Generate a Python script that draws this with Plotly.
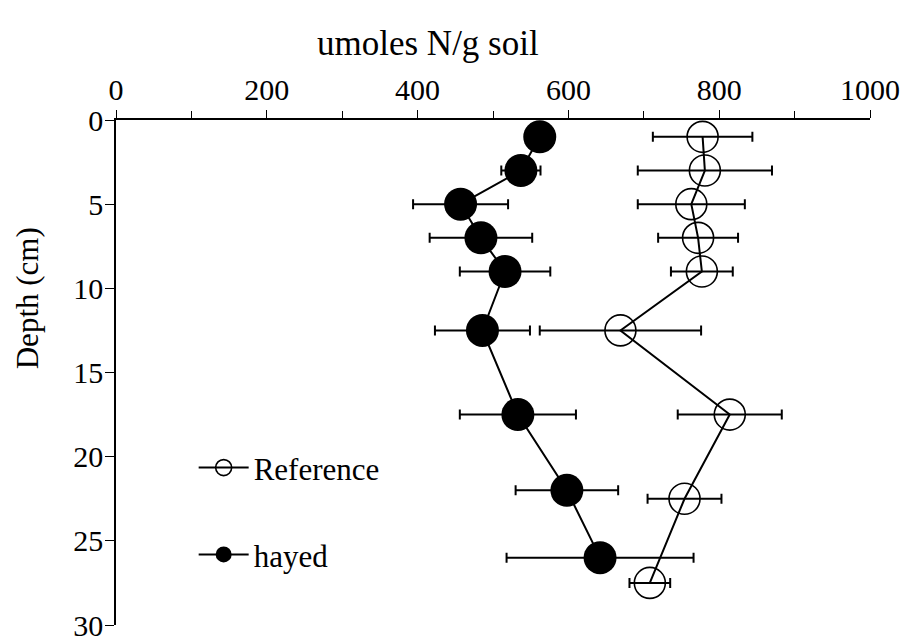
import plotly.graph_objects as go

depth_hayed = [1, 3, 5, 7, 9, 12.5, 17.5, 22, 26]
n_hayed = [562, 537, 457, 484, 516, 486, 533, 598, 642]
err_hayed = [0, 26, 63, 68, 60, 63, 77, 68, 124]

depth_ref = [1, 3, 5, 7, 9, 12.5, 17.5, 22.5, 27.5]
n_ref = [778, 781, 763, 772, 777, 669, 814, 754, 708]
err_ref = [66, 89, 71, 53, 41, 107, 69, 49, 27]

x_ticks = [0, 200, 400, 600, 800, 1000]
y_ticks = [0, 5, 10, 15, 20, 25, 30]

FONT = "Liberation Serif"
FS = 30

fig = go.Figure()
fig.add_trace(go.Scatter(
    x=n_ref, y=depth_ref, name="Reference", mode="lines+markers",
    line=dict(color="black", width=2),
    marker=dict(symbol="circle-open", size=31, color="black", line=dict(width=1.6, color="black")),
    error_x=dict(type="data", array=err_ref, visible=True, color="black", thickness=2, width=5),
    legend="legend",
))
fig.add_trace(go.Scatter(
    x=n_hayed, y=depth_hayed, name="hayed", mode="lines+markers",
    line=dict(color="black", width=2),
    marker=dict(symbol="circle", size=33, color="black"),
    error_x=dict(type="data", array=err_hayed, visible=True, color="black", thickness=2, width=5),
    legend="legend2",
))

fig.update_layout(
    width=904, height=643,
    margin=dict(l=116, r=34, t=120, b=18, autoexpand=False),
    paper_bgcolor="white", plot_bgcolor="white",
    font=dict(family=FONT, size=FS, color="black"),
    showlegend=True,
    legend=dict(x=0.103, y=0.311, xanchor="left", yanchor="middle", bgcolor="rgba(0,0,0,0)",
                font=dict(family=FONT, size=31), itemwidth=50),
    legend2=dict(x=0.103, y=0.139, xanchor="left", yanchor="middle", bgcolor="rgba(0,0,0,0)",
                 font=dict(family=FONT, size=31), itemwidth=50),
    xaxis=dict(
        side="top", range=[0, 1000], tickvals=x_ticks, ticktext=[str(v) for v in x_ticks],
        ticks="outside", ticklen=8, tickwidth=1, tickcolor="black",
        minor=dict(dtick=100, ticks="outside", ticklen=7, tickwidth=1, tickcolor="black"),
        showline=True, linecolor="black", linewidth=1.5, showgrid=False, zeroline=False,
        tickfont=dict(family=FONT, size=FS), ticklabelstandoff=-2, automargin=False,
    ),
    yaxis=dict(
        range=[30, 0], tickvals=y_ticks, ticktext=[str(v) for v in y_ticks],
        ticks="outside", ticklen=9, tickwidth=1, tickcolor="black",
        showline=True, linecolor="black", linewidth=1.5, showgrid=False, zeroline=False,
        tickfont=dict(family=FONT, size=FS), ticklabelstandoff=-4, automargin=False,
    ),
    annotations=[
        dict(text="umoles N/g soil", xref="paper", yref="paper", x=0.414, y=1, yshift=77,
             xanchor="center", yanchor="middle", showarrow=False, font=dict(family=FONT, size=35)),
        dict(text="Depth (cm)", xref="paper", yref="paper", x=0, xshift=-89, y=0.647,
             xanchor="center", yanchor="middle", textangle=-90, showarrow=False,
             font=dict(family=FONT, size=31)),
    ],
)

fig.write_html("out.html", config={"displayModeBar": False},
               post_script="document.body.style.margin='0px';document.body.style.overflow='hidden';")
